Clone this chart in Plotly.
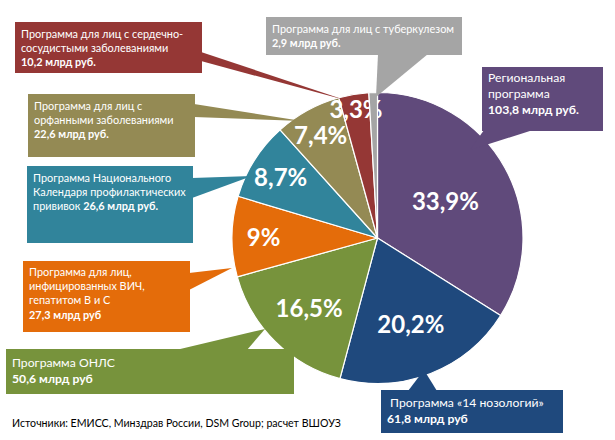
import plotly.graph_objects as go

# ---- data ----
programs = ["Региональная программа", "Программа «14 нозологий»", "Программа ОНЛС",
            "Программа для лиц, инфицированных ВИЧ, гепатитом В и С",
            "Программа Национального Календаря профилактических прививок",
            "Программа для лиц с орфанными заболеваниями",
            "Программа для лиц с сердечно-сосудистыми заболеваниями",
            "Программа для лиц с туберкулезом"]
values = [103.8, 61.8, 50.6, 27.3, 26.6, 22.6, 10.2, 2.9]
pct_labels = ["33,9%", "20,2%", "16,5%", "9%", "8,7%", "7,4%", "3,3%", ""]
colors = ["#604A7B", "#1F497D", "#77933C", "#E46C0A", "#31849B", "#948A54", "#953735", "#A5A5A5"]

callout_lines = [
    ["Региональная", "программа", "<b>103,8 млрд руб.</b>"],
    ["\u00a0Программа «14 нозологий»", "<b>61,8 млрд руб</b>"],
    ["Программа ОНЛС", "<b>50,6 млрд руб</b>"],
    ["Программа для лиц,", "инфицированных ВИЧ,", "гепатитом В и С", "<b>27,3 млрд руб</b>"],
    ["Программа Национального", "Календаря профилактических", "прививок <b>26,6 млрд руб.</b>"],
    ["Программа для лиц с", "орфанными заболеваниями", "<b>22,6 млрд руб.</b>"],
    ["Программа для лиц с сердечно-", "сосудистыми заболеваниями", "<b>10,2 млрд руб.</b>"],
    ["Программа для лиц с туберкулезом", "<b>2,9 млрд руб.</b>"],
]
source_text = "Источники: ЕМИСС, Минздрав России, DSM Group; расчет ВШОУЗ"

# ---- layout helpers (pixel -> paper) ----
W, H = 615, 440
def px(x): return x / W
def py(y): return 1 - y / H

cx, cy, r = 377.5, 238, 145.5

# box rects (x0, y0, x1, y1), text centre y, font size, pointer polygons (pixels)
boxes = [
    (482, 67, 603, 131),
    (381, 390, 563, 433),
    (6, 349, 294, 394),
    (23, 261, 190, 332),
    (27, 166, 193, 243),
    (28, 94, 195, 157),
    (15, 22, 202, 73),
    (266, 17, 462, 55),
]
text_mid = [93.5, 410.5, 370, 293, 191, 119, 47, 35.5]
text_size = [12.2, 12.2, 12.2, 10.9, 10.9, 10.9, 10.9, 10.9]
pointers = [
    [(484, 130), (533, 130), (470, 150)],
    [(408, 391), (437, 391), (424, 370)],
    [(176, 350), (247, 350), (265, 329)],
    [(189, 273), (189, 290), (232, 268)],
    [(192, 178), (192, 198), (252, 176)],
    [(194, 104), (194, 117), (302, 121)],
    [(201, 52), (201, 61), (345, 100)],
    [(378, 54), (428, 54), (376, 97)],
]

fig = go.Figure()
fig.add_trace(go.Pie(
    labels=programs, values=values, text=pct_labels,
    textinfo="text", textposition="inside", insidetextorientation="horizontal",
    sort=False, direction="clockwise", rotation=0,
    marker=dict(colors=colors, line=dict(color="white", width=1.2)),
    textfont=dict(family="Lato", size=24, color="white", weight="bold"),
    domain=dict(x=[px(cx - r), px(cx + r)], y=[py(cy + r), py(cy - r)]),
    showlegend=False, hoverinfo="label+value",
))

shapes = []
annotations = []
for (x0, y0, x1, y1), ym, fs, pts, col, lines in zip(boxes, text_mid, text_size, pointers, colors, callout_lines):
    path = "M " + " L ".join(f"{px(x)},{py(y)}" for x, y in pts) + " Z"
    shapes.append(dict(type="path", xref="paper", yref="paper", path=path,
                       fillcolor=col, line=dict(width=0), layer="above"))
    shapes.append(dict(type="rect", xref="paper", yref="paper",
                       x0=px(x0), x1=px(x1), y0=py(y1), y1=py(y0),
                       fillcolor=col, line=dict(width=0), layer="above"))
    annotations.append(dict(xref="paper", yref="paper", x=px(x0 + 4), y=py(ym),
                            xanchor="left", yanchor="middle", align="left", showarrow=False,
                            text="<br>".join(lines),
                            font=dict(family="Lato", size=fs, color="white")))

annotations.append(dict(xref="paper", yref="paper", x=px(10), y=py(423),
                        xanchor="left", yanchor="middle", showarrow=False,
                        text=source_text, font=dict(family="Lato", size=10.6, color="black")))

fig.update_layout(width=W, height=H, margin=dict(l=0, r=0, t=0, b=0),
                  paper_bgcolor="white", plot_bgcolor="white",
                  uniformtext=dict(minsize=24, mode="show"),
                  shapes=shapes, annotations=annotations)
fig.write_html("out.html", config={"displayModeBar": False},
               post_script="document.body.style.margin='0';document.body.style.overflow='hidden';")
